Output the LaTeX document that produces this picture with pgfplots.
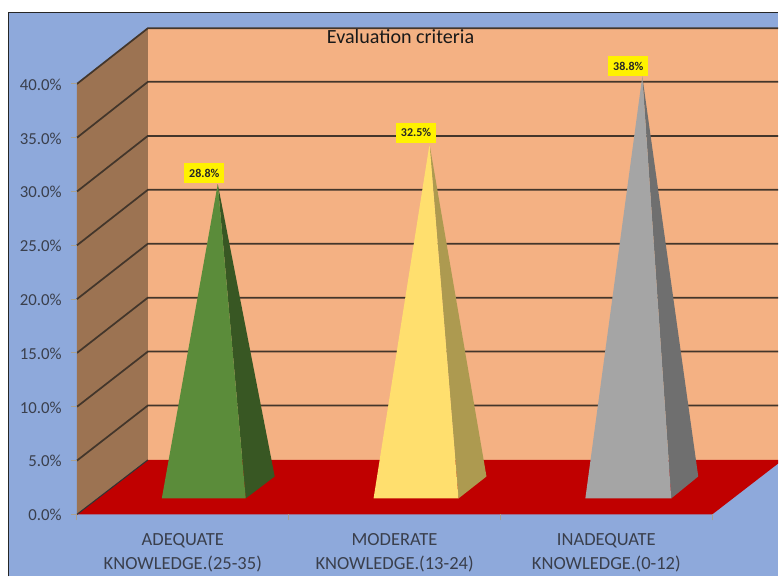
\documentclass[border=0pt]{standalone}
\usepackage{pgfplots}
\pgfplotsset{compat=1.18}
\usepackage{fontspec}
\setmainfont{Carlito}
\definecolor{bgblue}{HTML}{8EA9DB}
\definecolor{wall}{HTML}{F4B183}
\definecolor{sidewall}{HTML}{9C7352}
\definecolor{floorred}{HTML}{C00000}
\definecolor{gridc}{HTML}{43362B}
\definecolor{gl}{HTML}{5B8C3A}
\definecolor{gd}{HTML}{385723}
\definecolor{yl}{HTML}{FFDF6E}
\definecolor{yd}{HTML}{AD9A50}
\definecolor{sl}{HTML}{A5A5A5}
\definecolor{sd}{HTML}{6F6F6F}
\definecolor{txt}{HTML}{3A3F4C}
\definecolor{tickc}{HTML}{A9A08F}
\begin{document}
\begin{tikzpicture}
\begin{axis}[
  scale only axis, width=477pt, height=323.25pt,
  xmin=0, xmax=3, ymin=0, ymax=40,
  clip=false, axis on top,
  axis line style={draw=none},
  tick style={color=tickc, line width=0.75pt},
  tick align=outside, major tick length=4.5pt,
  xtick pos=bottom, ytick pos=left,
  xtick={0,1,2,3}, xticklabels={,,,},
  extra x ticks={0.5,1.5,2.5},
  extra x tick labels={{ADEQUATE\\KNOWLEDGE.(25-35)},{MODERATE\\KNOWLEDGE.(13-24)},{INADEQUATE\\KNOWLEDGE.(0-12)}},
  extra x tick style={major tick length=0pt, tick style={draw=none}},
  x tick label style={align=center, font=\fontsize{13.9}{18}\selectfont, text=txt, yshift=-10.5pt},
  ytick={0,5,10,15,20,25,30,35,40},
  y tick label style={font=\fontsize{12.6}{14}\selectfont, text=txt, xshift=-3.5pt, yshift=-0.5pt},
  yticklabel={\pgfmathprintnumber[fixed,fixed zerofill,precision=1,assume math mode=true]{\tick}\%},
]
% page and chart area
\addplot[fill=white,draw=none] coordinates {(-0.36321,-5.754)(3.3113,-5.754)(3.3113,47.796)(-0.36321,47.796)} --cycle;
\addplot[fill=bgblue,draw=none] coordinates {(-0.3231,-5.754)(3.3113,-5.754)(3.3113,46.636)(-0.3231,46.636)} --cycle;
\addplot[draw=black!85,line width=1.1pt] coordinates {(-0.3231,-5.754)(-0.3231,46.636)(3.3113,46.636)};
% walls and floor
\addplot[fill=wall,draw=none] coordinates {(0.3349,5.06)(3.3113,5.06)(3.3113,45.17)(0.3349,45.17)} --cycle;
\addplot[fill=sidewall,draw=none] coordinates {(0,0)(0.3349,5.06)(0.3349,45.17)(0,40)} --cycle;
\addplot[fill=floorred,draw=none] coordinates {(0,0)(3,0)(3.3113,4.73)(3.3113,5.06)(0.3349,5.06)} --cycle;
% gridlines
\addplot[draw=gridc,line width=1.3pt] coordinates {(0,5)(0.3349,10.12)(3.3113,10.12)};
\addplot[draw=gridc,line width=1.3pt] coordinates {(0,10)(0.3349,15.13)(3.3113,15.13)};
\addplot[draw=gridc,line width=1.3pt] coordinates {(0,15)(0.3349,20.14)(3.3113,20.14)};
\addplot[draw=gridc,line width=1.3pt] coordinates {(0,20)(0.3349,25.15)(3.3113,25.15)};
\addplot[draw=gridc,line width=1.3pt] coordinates {(0,25)(0.3349,30.16)(3.3113,30.16)};
\addplot[draw=gridc,line width=1.3pt] coordinates {(0,30)(0.3349,35.17)(3.3113,35.17)};
\addplot[draw=gridc,line width=1.3pt] coordinates {(0,35)(0.3349,40.19)(3.3113,40.19)};
\addplot[draw=gridc,line width=1.3pt] coordinates {(0,40)(0.3349,45.17)(3.3113,45.17)};
\addplot[draw=black!80,line width=0.8pt] coordinates {(0,0)(0.3349,5.06)};
% pyramid 1: 28.8
\addplot[fill=gd,draw=none] coordinates {(0.7972,1.485)(0.9340,3.527)(0.6651,30.7)} --cycle;
\addplot[fill=gl,draw=none] coordinates {(0.4009,1.485)(0.7972,1.485)(0.6651,30.7)} --cycle;
% pyramid 2: 32.5
\addplot[fill=yd,draw=none] coordinates {(1.8019,1.485)(1.9340,3.527)(1.6651,34.4)} --cycle;
\addplot[fill=yl,draw=none] coordinates {(1.4009,1.485)(1.8019,1.485)(1.6651,34.4)} --cycle;
% pyramid 3: 38.8
\addplot[fill=sd,draw=none] coordinates {(2.8066,1.485)(2.9340,3.527)(2.6698,40.7)} --cycle;
\addplot[fill=sl,draw=none] coordinates {(2.4009,1.485)(2.8066,1.485)(2.6698,40.7)} --cycle;
% data labels
\node[fill=yellow,text=black!85,inner sep=0pt,minimum width=30pt,minimum height=15pt,font=\fontsize{9}{10}\selectfont\bfseries] at (axis cs:0.6014,31.69) {28.8\%};
\node[fill=yellow,text=black!85,inner sep=0pt,minimum width=30pt,minimum height=15pt,font=\fontsize{9}{10}\selectfont\bfseries] at (axis cs:1.6014,35.45) {32.5\%};
\node[fill=yellow,text=black!85,inner sep=0pt,minimum width=30pt,minimum height=15pt,font=\fontsize{9}{10}\selectfont\bfseries] at (axis cs:2.6038,41.62) {38.8\%};
% title
\node[text=black!90,font=\fontsize{15.1}{18}\selectfont] at (axis cs:1.5283,44.37) {Evaluation criteria};
\end{axis}
\end{tikzpicture}
\end{document}
